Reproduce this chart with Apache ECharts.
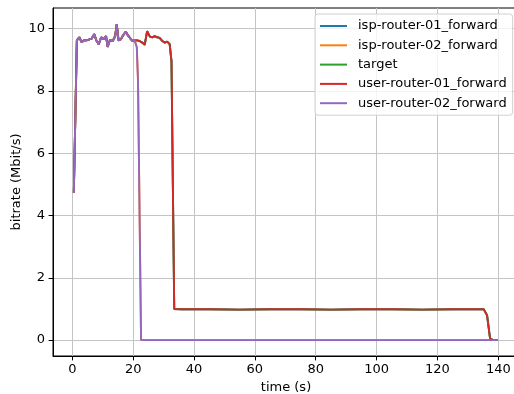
<!DOCTYPE html>
<html><head><meta charset="utf-8">
<script src="https://cdn.jsdelivr.net/npm/echarts@6/dist/echarts.min.js"></script>
<style>html,body{margin:0;padding:0;background:#fff}#c{width:514px;height:394px}</style>
</head><body><div id="c"></div>
<script>
// ---- data ----
const seriesNames = ['isp-router-01_forward', 'isp-router-02_forward', 'target', 'user-router-01_forward', 'user-router-02_forward'];
// shared ramp-up part (all series identical here)
const commonTime = [0.5, 1.5, 2.3, 3.1, 3.9, 4.7, 5.6, 6.4, 7.2, 7.9, 8.7, 9.5, 10.3, 11.1, 11.6, 12.4, 13.3, 14.1, 14.6, 15.2, 16.0, 16.8, 17.6, 18.3, 19.1, 19.8, 20.5];
const commonValues = [4.72, 9.62, 9.72, 9.56, 9.63, 9.62, 9.65, 9.68, 9.82, 9.62, 9.50, 9.72, 9.66, 9.76, 9.41, 9.64, 9.60, 9.76, 10.14, 9.62, 9.66, 9.80, 9.90, 9.78, 9.68, 9.60, 9.62];
// user-router-01 tail
const router01TailTime = [21.3, 22.1, 23.0, 23.8, 24.6, 25.5, 26.3, 27.1, 27.9, 28.7, 29.6, 30.4, 31.2, 32.0, 32.6, 33.5, 36, 45, 55, 65, 75, 85, 95, 105, 115, 125, 135.2, 136.3, 137.3, 138.3, 139.8];
const router01TailValues = [9.62, 9.60, 9.55, 9.48, 9.92, 9.74, 9.72, 9.76, 9.72, 9.70, 9.60, 9.55, 9.58, 9.50, 8.95, 1.0, 0.99, 0.99, 0.98, 0.99, 0.99, 0.98, 0.99, 0.99, 0.98, 0.99, 0.99, 0.8, 0.05, 0.0, 0.0];
// user-router-02 tail
const router02TailTime = [21.2, 21.6, 22.6, 139.8];
const router02TailValues = [9.4, 8.3, 0.0, 0.0];
const xTicks = [0, 20, 40, 60, 80, 100, 120, 140];
const yTicks = [0, 2, 4, 6, 8, 10];
const colors = ['#1f77b4', '#ff7f0e', '#2ca02c', '#d62728', '#9467bd'];

function pairs(t, v) { return t.map((x, i) => [x, v[i]]); }
const router01 = pairs(commonTime.concat(router01TailTime), commonValues.concat(router01TailValues));
const router02 = pairs(commonTime.concat(router02TailTime), commonValues.concat(router02TailValues));
const seriesData = [router01, router02, router01, router01, router02];

const FONT = 'DejaVu Sans';
const FS = 13;
const chart = echarts.init(document.getElementById('c'), null, {renderer: 'canvas'});
chart.setOption({
  animation: false,
  backgroundColor: '#fff',
  grid: {left: 53, top: 8, width: 466, height: 348, containLabel: false, outerBoundsMode: 'none',
         show: true, borderColor: '#000', borderWidth: 1, backgroundColor: 'transparent'},
  xAxis: {
    type: 'value', min: -6.34, max: 146.8,
    name: 'time (s)', nameLocation: 'middle', nameGap: 25, nameMoveOverlap: false,
    nameTextStyle: {fontFamily: FONT, fontSize: FS, color: '#000'},
    axisLine: {show: true, onZero: false, lineStyle: {color: '#000', width: 1}},
    axisTick: {show: true, length: 4.4, customValues: xTicks, lineStyle: {color: '#000', width: 1}},
    axisLabel: {customValues: xTicks, fontFamily: FONT, fontSize: FS, color: '#000', margin: 7},
    splitLine: {show: true, lineStyle: {color: '#c4c4c4', width: 1}}
  },
  yAxis: {
    type: 'value', min: -0.51, max: 10.66,
    name: 'bitrate (Mbit/s)', nameLocation: 'middle', nameGap: 30, nameMoveOverlap: false,
    nameTextStyle: {fontFamily: FONT, fontSize: FS, color: '#000'},
    axisLine: {show: true, onZero: false, lineStyle: {color: '#000', width: 1}},
    axisTick: {show: true, length: 4.4, customValues: yTicks, lineStyle: {color: '#000', width: 1}},
    axisLabel: {customValues: yTicks, fontFamily: FONT, fontSize: FS, color: '#000', margin: 8},
    splitLine: {show: true, lineStyle: {color: '#c4c4c4', width: 1}}
  },
  legend: {
    orient: 'vertical', left: 315, top: 14,
    padding: [5, 6, 5, 5],
    itemWidth: 27, itemHeight: 2, itemGap: 5.3, icon: 'rect',
    backgroundColor: 'rgba(255,255,255,0.8)', borderColor: '#d0d0d0', borderWidth: 1, borderRadius: 3,
    textStyle: {fontFamily: FONT, fontSize: FS, color: '#000', lineHeight: 14, padding: [0, 0, 0, 6]},
    data: seriesNames
  },
  series: seriesNames.map((n, i) => ({
    name: n, type: 'line', data: seriesData[i], showSymbol: false, symbol: 'none',
    color: colors[i], lineStyle: {color: colors[i], width: 1.9}, z: 2 + i
  }))
});
</script></body></html>
